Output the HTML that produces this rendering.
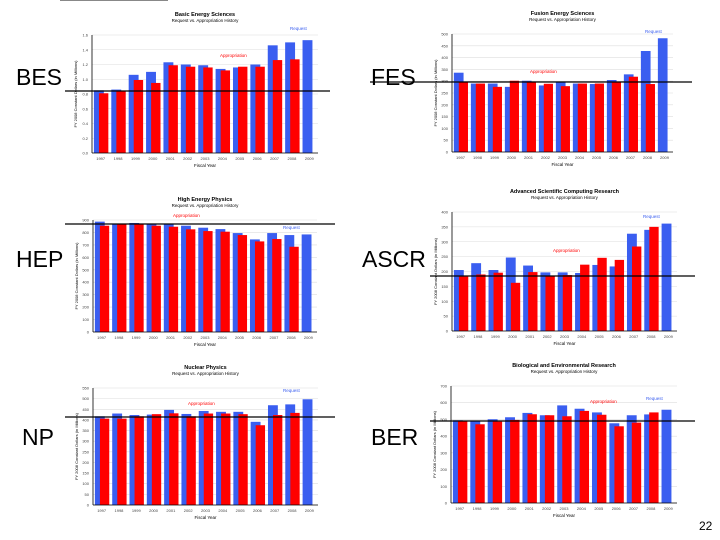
<!DOCTYPE html>
<html><head><meta charset="utf-8"><style>
body{margin:0;background:#fff;width:720px;height:540px;overflow:hidden;position:relative;font-family:"Liberation Sans",sans-serif}
.lbl{position:absolute;font-size:23px;color:#000}
svg{position:absolute;left:0;top:0}
</style></head><body>
<div class="lbl" style="left:16px;top:64px">BES</div>
<div class="lbl" style="left:371px;top:64px">FES</div>
<div class="lbl" style="left:16px;top:246px">HEP</div>
<div class="lbl" style="left:362px;top:246px">ASCR</div>
<div class="lbl" style="left:22px;top:424px">NP</div>
<div class="lbl" style="left:371px;top:424px">BER</div>
<div style="position:absolute;left:699px;top:519px;font-size:12px">22</div>
<svg id="s" width="720" height="540"></svg>
<script>
const years=["1997","1998","1999","2000","2001","2002","2003","2004","2005","2006","2007","2008","2009"];
const besReq=[0.85,0.86,1.06,1.10,1.23,1.20,1.19,1.14,1.16,1.20,1.46,1.50,1.53];
const besApp=[0.81,0.84,0.99,0.95,1.19,1.17,1.16,1.12,1.17,1.17,1.26,1.27,null];
const besTicks=["0.0","0.2","0.4","0.6","0.8","1.0","1.2","1.4","1.6"];
const fesReq=[336,290,290,276,302,282,297,290,288,305,329,428,482];
const fesApp=[297,290,276,302,297,289,279,290,290,297,319,288,null];
const fesTicks=["0","50","100","150","200","250","300","350","400","450","500"];
const hepReq=[887,868,876,865,865,854,838,827,795,744,795,779,784];
const hepApp=[854,868,868,854,846,825,811,806,779,728,747,685,null];
const hepTicks=["0","100","200","300","400","500","600","700","800","900"];
const ascrReq=[205,228,205,247,220,197,197,195,222,217,327,340,361];
const ascrApp=[183,190,196,162,198,185,188,223,246,239,284,350,null];
const ascrTicks=["0","50","100","150","200","250","300","350","400"];
const npReq=[417,430,423,425,447,428,442,438,438,391,469,473,497];
const npApp=[406,406,417,427,431,417,430,430,427,375,423,433,null];
const npTicks=["0","50","100","150","200","250","300","350","400","450","500","550"];
const berReq=[495,489,501,513,539,525,584,564,542,477,525,530,558];
const berApp=[491,471,487,497,531,525,519,551,528,459,481,542,null];
const berTicks=["0","100","200","300","400","500","600","700"];

const charts=[
 {n:"bes",title:"Basic Energy Sciences",sub:"Request vs. Appropriation History",req:besReq,app:besApp,ticks:besTicks,max:1.6,x0:92,x1:318,y0:35,y1:153,line:[65,330,91],ra:[290,30],aa:[220,57]},
 {n:"fes",title:"Fusion Energy Sciences",sub:"Request vs. Appropriation History",req:fesReq,app:fesApp,ticks:fesTicks,max:500,x0:452,x1:673,y0:34,y1:152,line:[370,692,82],ra:[645,33],aa:[530,73]},
 {n:"hep",title:"High Energy Physics",sub:"Request vs. Appropriation History",req:hepReq,app:hepApp,ticks:hepTicks,max:900,x0:93,x1:317,y0:220,y1:332,line:[65,335,224],ra:[283,229],aa:[173,217]},
 {n:"ascr",title:"Advanced Scientific Computing Research",sub:"Request vs. Appropriation History",req:ascrReq,app:ascrApp,ticks:ascrTicks,max:400,x0:452,x1:677,y0:212,y1:331,line:[430,695,276],ra:[643,218],aa:[553,252]},
 {n:"np",title:"Nuclear Physics",sub:"Request vs. Appropriation History",req:npReq,app:npApp,ticks:npTicks,max:550,x0:93,x1:318,y0:388,y1:505,line:[65,335,417],ra:[283,392],aa:[188,405]},
 {n:"ber",title:"Biological and Environmental Research",sub:"Request vs. Appropriation History",req:berReq,app:berApp,ticks:berTicks,max:700,x0:451,x1:677,y0:386,y1:503,line:[430,695,421],ra:[646,400],aa:[590,403]}
];
const NS="http://www.w3.org/2000/svg",svg=document.getElementById("s");
function mk(t,a,p){const e=document.createElementNS(NS,t);for(const k in a)e.setAttribute(k,a[k]);(p||svg).appendChild(e);return e;}
charts.forEach(c=>{
 const g=mk("g",{});
 
 
 const ys=v=>c.y1-(v/c.max)*(c.y1-c.y0);
 const gw=(c.x1-c.x0)/years.length;
 const xs=i=>c.x0+i*gw;
 const cx=(c.x0+c.x1)/2;
 const t=mk("text",{x:cx,y:c.y0-19,"font-size":"5.5","font-weight":"bold","text-anchor":"middle"},g);t.textContent=c.title;
 
 const st=mk("text",{x:cx,y:c.y0-13,"font-size":"4.5","text-anchor":"middle"},g);st.textContent=c.sub;
 c.ticks.forEach(tk=>{const v=parseFloat(tk),y=ys(v);
  mk("line",{x1:c.x0,x2:c.x1,y1:y,y2:y,stroke:"#ddd","stroke-width":0.6},g);
  const tt=mk("text",{x:c.x0-4,y:y+1.5,"font-size":"4","text-anchor":"end",fill:"#444"},g);tt.textContent=tk;
  });
 years.forEach((yr,i)=>{const x=xs(i);
  const b=mk("rect",{x:x+gw*0.11,y:ys(c.req[i]),width:gw*0.57,height:c.y1-ys(c.req[i]),fill:"#3a5ef0"},g);
  
  if(c.app[i]!=null){const r=mk("rect",{x:x+gw*0.4,y:ys(c.app[i]),width:gw*0.54,height:c.y1-ys(c.app[i]),fill:"#ff0000"},g);
   }
  const xl=mk("text",{x:x+gw/2,y:c.y1+7,"font-size":"4","text-anchor":"middle",fill:"#444"},g);xl.textContent=yr;
  });
 mk("line",{x1:c.x0,x2:c.x0,y1:c.y0,y2:c.y1,stroke:"#000","stroke-width":0.8},g);
 mk("line",{x1:c.x0,x2:c.x1,y1:c.y1,y2:c.y1,stroke:"#000","stroke-width":0.8},g);
 const fy=mk("text",{x:cx,y:c.y1+14,"font-size":"4.5","text-anchor":"middle"},g);fy.textContent="Fiscal Year";
 
 const my=(c.y0+c.y1)/2,yt=mk("text",{x:c.x0-15,y:my,"font-size":"4","text-anchor":"middle",transform:`rotate(-90 ${c.x0-15} ${my})`},g);
 yt.textContent="FY 2008 Constant Dollars (in Millions)";
 
 const ra=mk("text",{x:c.ra[0],y:c.ra[1],"font-size":"4.5",fill:"#3a5ef0"},g);ra.textContent="Request";
 
 const aa=mk("text",{x:c.aa[0],y:c.aa[1],"font-size":"4.5",fill:"#f00"},g);aa.textContent="Appropriation";
 
 const ln=mk("line",{x1:c.line[0],x2:c.line[1],y1:c.line[2],y2:c.line[2],stroke:"#000","stroke-width":1.3});
 
});
const tl=mk("line",{x1:60,x2:168,y1:0.5,y2:0.5,stroke:"#888","stroke-width":1});

</script>
</body></html>
